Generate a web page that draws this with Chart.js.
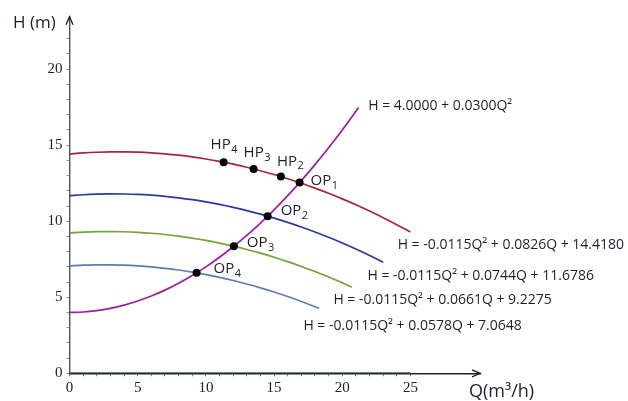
<!DOCTYPE html>
<html><head><meta charset="utf-8">
<script src="https://cdn.jsdelivr.net/npm/chart.js@4"></script>
<style>html,body{margin:0;padding:0;background:#fff}canvas{display:block}</style>
</head><body>
<canvas id="c" width="628" height="401"></canvas>
<script>
// ---- data ----
const qRed = [0,1,2,3,4,5,6,7,8,9,10,11,12,13,14,15,16,17,18,19,20,21,22,23,24,25];
const hRed = [14.418,14.489,14.537,14.562,14.564,14.544,14.500,14.433,14.343,14.230,14.094,13.935,13.753,13.548,13.320,13.070,12.796,12.499,12.179,11.836,11.470,11.081,10.669,10.234,9.776,9.296];
const qBlue = [0,1,2,3,4,5,6,7,8,9,10,11,12,13,14,15,16,17,18,19,20,21,22,23];
const hBlue = [11.679,11.742,11.781,11.799,11.792,11.763,11.711,11.636,11.538,11.417,11.273,11.106,10.915,10.702,10.466,10.207,9.925,9.620,9.292,8.941,8.567,8.170,7.750,7.306];
const qGreen = [0,1,2,3,4,5,6,7,8,9,10,11,12,13,14,15,16,17,18,19,20,20.7];
const hGreen = [9.228,9.282,9.314,9.322,9.308,9.271,9.210,9.127,9.020,8.891,8.739,8.563,8.365,8.143,7.899,7.632,7.341,7.028,6.691,6.332,5.950,5.668];
const qLight = [0,1,2,3,4,5,6,7,8,9,10,11,12,13,14,15,16,17,18,18.3];
const hLight = [7.065,7.111,7.134,7.135,7.112,7.066,6.998,6.906,6.791,6.654,6.493,6.309,6.102,5.873,5.620,5.344,5.046,4.724,4.379,4.271];
const qSys = [0,1,2,3,4,5,6,7,8,9,10,11,12,13,14,15,16,17,18,19,20,21,21.2];
const hSys = [4.00,4.03,4.12,4.27,4.48,4.75,5.08,5.47,5.92,6.43,7.00,7.63,8.32,9.07,9.88,10.75,11.68,12.67,13.72,14.83,16.00,17.23,17.48];
const qBase = [0,25];
const hBase = [0,0];
const qOP = [16.87,14.53,12.05,9.32];
const hOP = [12.54,10.33,8.36,6.61];
const opSubs = ['1','2','3','4'];
const qHP = [15.5,13.5,11.3];
const hHP = [12.94,13.44,13.88];
const hpSubs = ['2','3','4'];
const eqTexts = [
  'H = 4.0000 + 0.0300Q\u00b2',
  'H = -0.0115Q\u00b2 + 0.0826Q + 14.4180',
  'H = -0.0115Q\u00b2 + 0.0744Q + 11.6786',
  'H = -0.0115Q\u00b2 + 0.0661Q + 9.2275',
  'H = -0.0115Q\u00b2 + 0.0578Q + 7.0648'
];
const xTickLabels = [0,5,10,15,20,25];
const yTickLabels = [0,5,10,15,20];

// ---- layout / style ----
const eqAnchors = [[21.9,17.59],[24.06,8.46],[21.85,6.40],[19.35,4.82],[17.15,3.11]];
const opOffsets = [[11,-2],[13,-5],[13,-3],[17,-4]];
const hpOffsets = [[-4,-15],[-10,-16],[-13,-17]];
const SANS = '"Open Sans", "Noto Sans", sans-serif';
const SERIF = '"Liberation Serif", "DejaVu Serif", serif';
const TEXT = '#1c2030';

const pts = (qs, hs) => qs.map((q,i)=>({x:q,y:hs[i]}));
const line = (qs,hs,color,w) => ({type:'line',data:pts(qs,hs),borderColor:color,borderWidth:w||1.7,
  pointRadius:0,fill:false,cubicInterpolationMode:'monotone',order:2});

function drawSub(ctx, main, sub, left, cy, size){
  ctx.textAlign='left'; ctx.textBaseline='middle';
  ctx.font = size+'px '+SANS;
  ctx.fillText(main,left,cy);
  const w = ctx.measureText(main).width;
  ctx.font = Math.round(size*0.72)+'px '+SANS;
  ctx.fillText(sub,left+w+0.5,cy+size*0.32);
}

const annot = {
  id:'annot',
  afterDraw(chart){
    const {ctx, scales:{x,y}, chartArea:ca} = chart;
    ctx.save();
    // axis arrows
    ctx.strokeStyle='#222'; ctx.lineWidth=1.4;
    const x0 = x.getPixelForValue(0), y0 = y.getPixelForValue(0);
    ctx.beginPath(); ctx.moveTo(x0-3.5,ca.top+8); ctx.lineTo(x0,ca.top); ctx.lineTo(x0+3.5,ca.top+8); ctx.stroke();
    ctx.beginPath(); ctx.moveTo(ca.right-8,y0-3.5); ctx.lineTo(ca.right,y0); ctx.lineTo(ca.right-8,y0+3.5); ctx.stroke();
    // axis titles
    ctx.fillStyle=TEXT; ctx.textBaseline='middle'; ctx.textAlign='left';
    ctx.font='17px '+SANS;
    ctx.fillText('H (m)',13,23);
    ctx.font='18px '+SANS;
    ctx.fillText('Q(m\u00b3/h)',469,392);
    // equations
    ctx.font='14px '+SANS;
    eqTexts.forEach((t,i)=>{
      ctx.fillText(t, x.getPixelForValue(eqAnchors[i][0]), y.getPixelForValue(eqAnchors[i][1]));
    });
    // point labels
    qOP.forEach((q,i)=>{
      const px=x.getPixelForValue(q), py=y.getPixelForValue(hOP[i]);
      drawSub(ctx,'OP',opSubs[i],px+opOffsets[i][0],py+opOffsets[i][1],15);
    });
    qHP.forEach((q,i)=>{
      const px=x.getPixelForValue(q), py=y.getPixelForValue(hHP[i]);
      drawSub(ctx,'HP',hpSubs[i],px+hpOffsets[i][0],py+hpOffsets[i][1],15);
    });
    ctx.restore();
  }
};

new Chart(document.getElementById('c'),{
  data:{datasets:[
    line(qBase,hBase,'#2f5f5c',2),
    line(qRed,hRed,'#a3283c'),
    line(qBlue,hBlue,'#2b3a9c'),
    line(qGreen,hGreen,'#76a23a'),
    line(qLight,hLight,'#5d7db2'),
    line(qSys,hSys,'#9c1e9c'),
    {type:'scatter',data:pts(qOP,hOP),pointRadius:4,pointBackgroundColor:'#000',pointBorderColor:'#000',pointBorderWidth:0,order:0},
    {type:'scatter',data:pts(qHP,hHP),pointRadius:4,pointBackgroundColor:'#000',pointBorderColor:'#000',pointBorderWidth:0,order:0}
  ]},
  options:{
    responsive:false, animation:false, devicePixelRatio:1,
    layout:{padding:{left:0,right:148,top:16.7,bottom:0}},
    plugins:{legend:{display:false},tooltip:{enabled:false}},
    scales:{
      x:{type:'linear',min:0,max:30.1,
        afterFit:s=>{s.height=27.7;},
        border:{display:true,color:'#222',width:1.4},
        grid:{drawOnChartArea:false,drawTicks:true,tickLength:3,
          tickColor:c=>c.tick && c.tick.value<=25 ? '#777' : 'rgba(0,0,0,0)', tickWidth:1},
        ticks:{stepSize:1,includeBounds:false,autoSkip:false,maxRotation:0,padding:3,color:'#222',
          font:{family:SERIF,size:15},
          callback:v=> xTickLabels.includes(v) ? String(v) : ''}
      },
      y:{type:'linear',min:0,max:23.45,
        afterFit:s=>{s.width=69.5;},
        border:{display:true,color:'#555',width:1.4},
        grid:{drawOnChartArea:false,drawTicks:true,tickLength:3,
          tickColor:c=>c.tick && c.tick.value<=22 ? '#888' : 'rgba(0,0,0,0)', tickWidth:1},
        ticks:{stepSize:1,includeBounds:false,autoSkip:false,padding:4,color:'#222',
          font:{family:SERIF,size:15},
          callback:v=> yTickLabels.includes(v) ? String(v) : ''}
      }
    }
  },
  plugins:[annot]
});
</script>
</body></html>
